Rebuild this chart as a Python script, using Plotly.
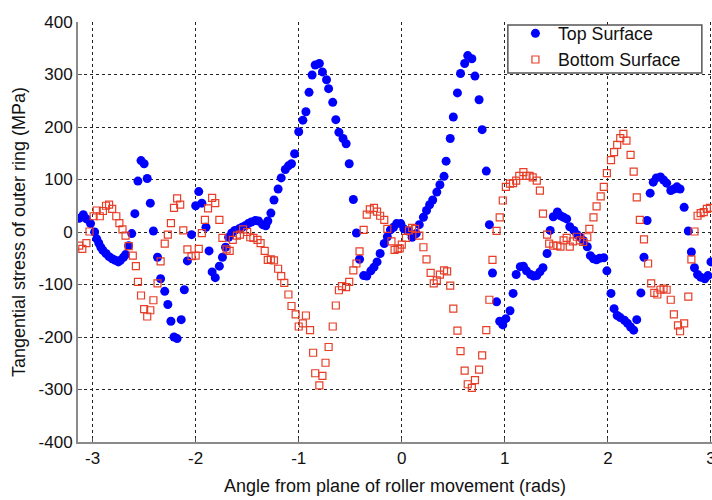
import plotly.graph_objects as go

# Tangential stress around the outer ring, top and bottom surfaces
top_angle = [
    -3.13, -3.09, -3.06, -3.02, -2.98, -2.96, -2.94, -2.92, -2.90, -2.87, -2.84, -2.81,
    -2.78, -2.75, -2.73, -2.70, -2.68, -2.65, -2.62, -2.59, -2.56, -2.53, -2.50, -2.47,
    -2.44, -2.41, -2.37, -2.34, -2.30, -2.27, -2.24, -2.21, -2.18, -2.14, -2.11, -2.08,
    -2.04, -2.00, -1.97, -1.94, -1.90, -1.87, -1.84, -1.81, -1.77, -1.74, -1.71, -1.68,
    -1.65, -1.62, -1.58, -1.55, -1.52, -1.49, -1.46, -1.42, -1.39, -1.35, -1.32, -1.30,
    -1.27, -1.24, -1.20, -1.17, -1.13, -1.10, -1.07, -1.04, -1.00, -0.96, -0.93, -0.90,
    -0.87, -0.84, -0.80, -0.77, -0.73, -0.71, -0.67, -0.64, -0.61, -0.57, -0.54, -0.51,
    -0.47, -0.44, -0.41, -0.37, -0.34, -0.30, -0.27, -0.24, -0.21, -0.17, -0.14, -0.11,
    -0.08, -0.05, -0.01, 0.02, 0.06, 0.10, 0.14, 0.17, 0.21, 0.24, 0.27, 0.30,
    0.34, 0.37, 0.41, 0.43, 0.47, 0.50, 0.54, 0.57, 0.61, 0.64, 0.68, 0.71,
    0.75, 0.78, 0.82, 0.85, 0.88, 0.92, 0.95, 0.98, 1.01, 1.05, 1.08, 1.11,
    1.15, 1.18, 1.21, 1.25, 1.28, 1.31, 1.34, 1.37, 1.41, 1.44, 1.47, 1.51,
    1.54, 1.57, 1.60, 1.63, 1.67, 1.70, 1.73, 1.76, 1.80, 1.83, 1.86, 1.89,
    1.92, 1.96, 1.99, 2.03, 2.06, 2.09, 2.12, 2.16, 2.19, 2.22, 2.25, 2.28,
    2.32, 2.35, 2.38, 2.41, 2.44, 2.47, 2.51, 2.54, 2.57, 2.61, 2.64, 2.67,
    2.70, 2.74, 2.78, 2.81, 2.84, 2.87, 2.90, 2.94, 2.97, 3.00,
]
top_stress = [
    26, 33, 25, 16, 0, -13, -21, -29, -35, -41, -47, -51,
    -54, -57, -54, -48, -43, -26, -3, 35, 97, 136, 130, 102,
    55, 2, -48, -89, -113, -138, -170, -200, -203, -167, -110, -55,
    -5, 50, 77, 55, 9, -36, -76, -87, -65, -48, -29, -10,
    -2, 3, 6, 9, 12, 16, 19, 22, 21, 14, 12, 21,
    36, 61, 82, 103, 119, 126, 130, 149, 191, 213, 229, 266,
    299, 318, 321, 305, 290, 273, 247, 214, 190, 178, 168, 130,
    62, -2, -52, -83, -84, -74, -67, -57, -41, -22, -9, 4,
    9, 16, 16, 6, 2, -10, -3, 14, 28, 41, 52, 61,
    76, 90, 106, 135, 178, 219, 265, 302, 321, 336, 330, 297,
    252, 195, 116, 14, -78, -133, -170, -177, -165, -150, -117, -81,
    -66, -65, -74, -81, -84, -83, -76, -68, -41, 3, 29, 38,
    31, 28, 25, 10, 3, -5, -10, -16, -28, -45, -51, -53,
    -50, -49, -74, -117, -146, -159, -163, -168, -174, -181, -187, -167,
    -116, -48, 22, 74, 95, 103, 105, 99, 93, 79, 82, 86,
    82, 47, 2, -38, -68, -81, -86, -89, -83, -57,
]

bottom_angle = [
    -3.13, -3.10, -3.06, -3.03, -2.99, -2.96, -2.93, -2.90, -2.87, -2.84, -2.81, -2.77,
    -2.74, -2.71, -2.68, -2.65, -2.61, -2.58, -2.56, -2.53, -2.50, -2.47, -2.44, -2.41,
    -2.37, -2.34, -2.30, -2.27, -2.24, -2.21, -2.18, -2.15, -2.12, -2.08, -2.04, -2.00,
    -1.97, -1.94, -1.91, -1.88, -1.84, -1.81, -1.77, -1.74, -1.70, -1.67, -1.64, -1.60,
    -1.57, -1.54, -1.50, -1.47, -1.44, -1.40, -1.37, -1.33, -1.30, -1.27, -1.24, -1.20,
    -1.17, -1.14, -1.10, -1.07, -1.03, -1.00, -0.96, -0.93, -0.89, -0.86, -0.84, -0.80,
    -0.77, -0.74, -0.71, -0.67, -0.64, -0.61, -0.58, -0.54, -0.51, -0.47, -0.44, -0.41,
    -0.37, -0.34, -0.31, -0.27, -0.24, -0.21, -0.17, -0.14, -0.10, -0.07, -0.04, -0.02,
    0.00, 0.04, 0.07, 0.10, 0.13, 0.17, 0.21, 0.24, 0.28, 0.31, 0.34, 0.37,
    0.41, 0.44, 0.47, 0.50, 0.54, 0.57, 0.61, 0.64, 0.68, 0.71, 0.75, 0.78,
    0.82, 0.85, 0.88, 0.92, 0.95, 0.98, 1.01, 1.05, 1.08, 1.11, 1.14, 1.18,
    1.21, 1.24, 1.27, 1.31, 1.34, 1.37, 1.41, 1.43, 1.47, 1.51, 1.54, 1.57,
    1.60, 1.63, 1.66, 1.70, 1.73, 1.76, 1.80, 1.82, 1.86, 1.89, 1.93, 1.96,
    1.99, 2.03, 2.06, 2.09, 2.12, 2.15, 2.18, 2.22, 2.25, 2.28, 2.31, 2.35,
    2.39, 2.42, 2.45, 2.48, 2.51, 2.54, 2.57, 2.61, 2.64, 2.68, 2.70, 2.74,
    2.78, 2.81, 2.84, 2.87, 2.90, 2.93, 2.96, 2.99,
]
bottom_stress = [
    -26, -32, -21, 1, 30, 41, 30, 40, 50, 52, 44, 30,
    17, 5, -7, -27, -45, -65, -95, -121, -147, -161, -149, -130,
    -98, -56, -22, -5, 17, 46, 64, 52, 3, -33, -46, -45,
    -32, -2, 23, 45, 65, 55, 23, -11, -33, -36, -15, -7,
    -5, 5, 0, -10, -11, -15, -21, -36, -53, -52, -54, -70,
    -84, -97, -119, -141, -157, -180, -174, -159, -187, -230, -269, -292,
    -274, -249, -219, -180, -140, -111, -103, -105, -95, -73, -60, -37,
    4, 33, 43, 46, 39, 31, 23, 6, -18, -34, -32, -31,
    -24, -11, 3, 8, 6, -7, -29, -52, -78, -98, -92, -81,
    -73, -75, -102, -146, -188, -227, -264, -290, -297, -282, -262, -235,
    -187, -129, -53, 2, 28, 60, 86, 92, 93, 98, 107, 114,
    107, 107, 104, 98, 79, 35, -5, -22, -26, -26, -28, -16,
    -11, -28, -18, -9, -16, -19, -10, 6, 28, 49, 68, 86,
    112, 137, 152, 166, 179, 187, 174, 147, 115, 66, 23, -14,
    -60, -98, -116, -119, -110, -108, -110, -129, -157, -178, -189, -174,
    -123, -52, 1, 31, 36, 38, 44, 46,
]

x_ticks = [-3, -2, -1, 0, 1, 2, 3]
x_tick_text = ["-3", "-2", "-1", "0", "1", "2", "3"]
y_ticks = [-400, -300, -200, -100, 0, 100, 200, 300, 400]
y_tick_text = ["-400", "-300", "-200", "-100", "0", "100", "200", "300", "400"]

FONT = "Arial, 'Liberation Sans', sans-serif"

fig = go.Figure()
fig.add_trace(go.Scatter(
    x=top_angle, y=top_stress, mode="markers", name="Top Surface",
    marker=dict(symbol="circle", size=9, color="rgb(0,0,255)", line=dict(width=0)),
))
fig.add_trace(go.Scatter(
    x=bottom_angle, y=bottom_stress, mode="markers", name="Bottom Surface",
    marker=dict(symbol="square-open", size=7, color="rgb(232,62,40)",
                line=dict(width=1.2, color="rgb(232,62,40)")),
))

axis_common = dict(
    showgrid=True, gridcolor="#222", gridwidth=1, griddash="dot",
    zeroline=False, showline=True, linecolor="#8a8a8a", linewidth=2,
    ticks="inside", ticklen=4, tickcolor="#555", tickwidth=1,
    tickfont=dict(family=FONT, size=17, color="#111"),
    ticklabeloverflow="allow", automargin=False,
)

fig.update_xaxes(
    range=[-3.1416, 3.01], tickmode="array", tickvals=x_ticks, ticktext=x_tick_text,
    title=dict(text="Angle from plane of roller movement (rads)",
               font=dict(family=FONT, size=18, color="#111"), standoff=12),
    **axis_common,
)
fig.update_yaxes(
    range=[-400, 400], tickmode="array", tickvals=y_ticks, ticktext=y_tick_text,
    title=dict(text="Tangential stress of outer ring (MPa)",
               font=dict(family=FONT, size=18, color="#111"), standoff=8),
    **axis_common,
)

# Opaque framed box behind the legend entries
fig.add_shape(
    type="rect", xref="paper", yref="paper",
    x0=0.678, x1=0.984, y0=0.8786, y1=0.9929,
    fillcolor="white", line=dict(color="#555", width=1.5), layer="above",
)

fig.update_layout(
    width=712, height=500,
    margin=dict(l=78, r=0, t=22, b=58),
    paper_bgcolor="white", plot_bgcolor="white",
    font=dict(family=FONT, color="#111"),
    legend=dict(
        x=0.686, y=1.016, xanchor="left", yanchor="top",
        bgcolor="rgba(0,0,0,0)", borderwidth=0,
        font=dict(family=FONT, size=17.8, color="#111"),
        itemwidth=35,
    ),
    showlegend=True,
)

fig.write_html("out.html")
